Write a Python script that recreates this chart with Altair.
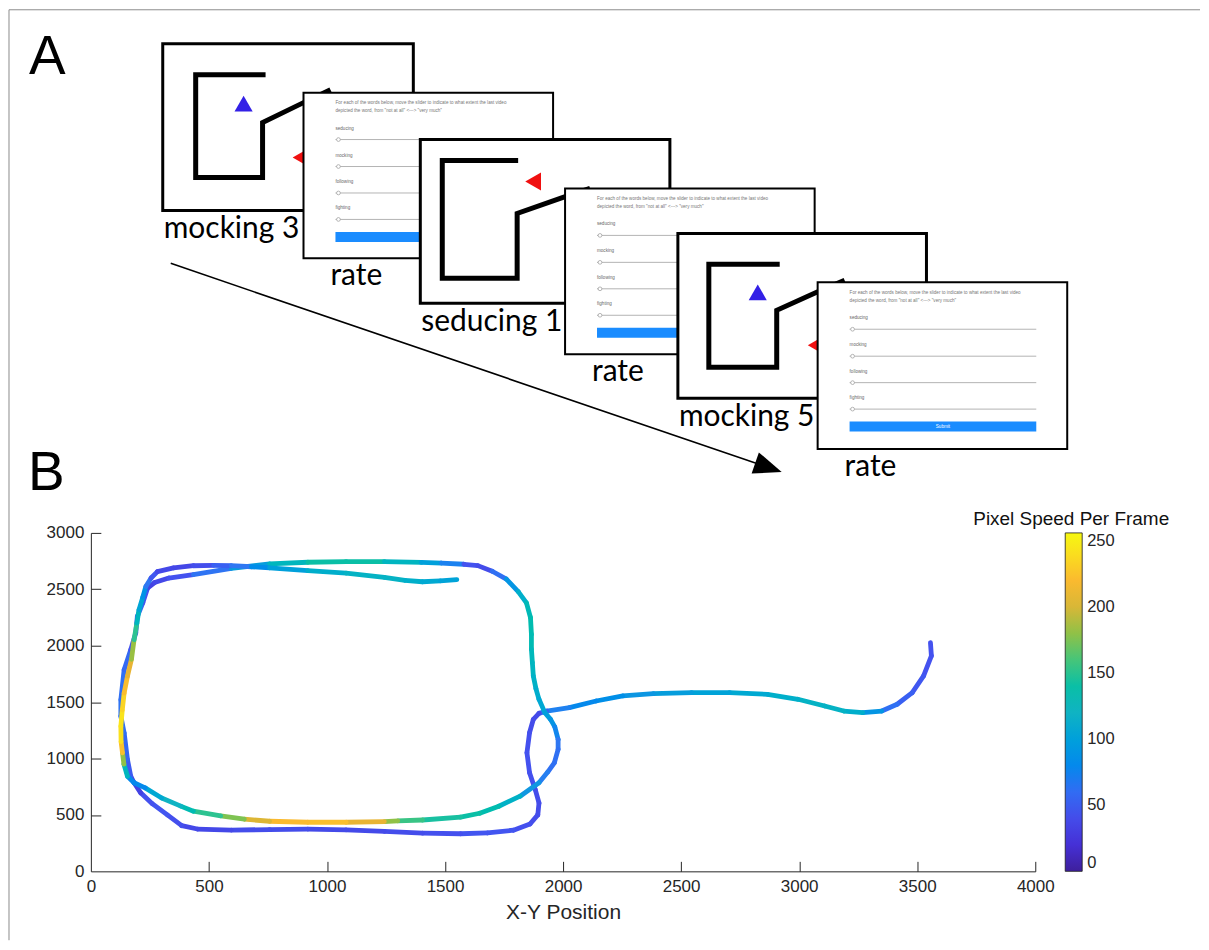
import math
import altair as alt
import pandas as pd

# ====================== Panel B data: trajectory ======================
traj_x = [3556, 3560, 3527, 3479, 3415, 3350, 3269, 3189, 3108, 2995, 2866, 2705, 2544, 2382, 2253, 2140, 2027, 1931, 1898, 1874,
          1858, 1847, 1858, 1882, 1898, 1893, 1860, 1790, 1680, 1566, 1405, 1243, 1081, 919, 757, 595, 451, 385, 324, 260, 211, 183,
          169, 155, 141, 127, 127, 141, 169, 190, 197, 220, 240,
          270, 330, 434, 595, 757, 919, 1081, 1243, 1400, 1485, 1580, 1639,
          1700, 1760, 1810, 1845, 1862, 1866, 1866, 1870, 1874, 1885, 1898, 1923, 1947, 1965, 1979, 1979, 1963, 1935, 1898, 1818,
          1728, 1647, 1566, 1405, 1300, 1243, 1081, 919, 757, 650, 550, 434, 381, 300, 230, 183,
          155, 140, 134, 128, 127, 133, 141, 155, 172, 183, 195, 204, 220, 233, 255, 282, 350, 434, 520, 595,
          680, 757, 919, 1081, 1243, 1330, 1404, 1480, 1550]
traj_y = [2028, 1910, 1732, 1584, 1481, 1421, 1407, 1421, 1466, 1525, 1569, 1584, 1584, 1575, 1555, 1510, 1451, 1421, 1400, 1347,
          1229, 1051, 874, 726, 607, 500, 420, 365, 340, 333, 338, 355, 368, 374, 370, 366, 375, 405, 500, 600, 696, 785,
          843, 991, 1227, 1375, 1522, 1788, 1965, 2112, 2260, 2380, 2510,
          2560, 2600, 2630, 2685, 2725, 2740, 2745, 2745, 2738, 2733, 2722, 2710,
          2660, 2590, 2480, 2380, 2250, 2100, 1969, 1850, 1732, 1620, 1525, 1407, 1347, 1280, 1170, 1081, 962, 880, 785, 666,
          577, 515, 480, 455, 447, 441, 435, 435, 444, 462, 492, 533, 578, 650, 740, 785,
          843, 950, 1050, 1150, 1286, 1430, 1581, 1730, 1880, 2053, 2200, 2319, 2430, 2525, 2600, 2657, 2690, 2709, 2712, 2709,
          2700, 2690, 2665, 2644, 2606, 2580, 2567, 2575, 2585]
traj_speed = [45, 45, 45, 50, 55, 70, 110, 118, 120, 118, 112, 105, 100, 95, 88, 82, 78, 70, 40, 38,
              42, 45, 45, 42, 40, 40, 42, 45, 48, 45, 42, 40, 38, 40, 42, 40, 35, 40, 45, 48, 40, 25,
              45, 55, 60, 65, 65, 60, 55, 35, 50, 60, 30,
              35, 40, 50, 80, 115, 135, 145, 135, 110, 90, 60, 30,
              50, 75, 105, 125, 135, 135, 130, 125, 120, 115, 110, 105, 95, 85, 70, 65, 60, 65, 80, 105,
              130, 140, 140, 145, 165, 195, 220, 225, 215, 190, 160, 140, 125, 115, 100, 60,
              100, 150, 210, 235, 248, 240, 228, 215, 200, 165, 135, 115, 95, 80, 55, 40, 35, 38, 45, 60,
              75, 90, 110, 118, 120, 118, 112, 105, 100]

x_tick_values = [0, 500, 1000, 1500, 2000, 2500, 3000, 3500, 4000]
y_tick_values = [0, 500, 1000, 1500, 2000, 2500, 3000]
speed_tick_values = [0, 50, 100, 150, 200, 250]
parula_stops = [0, 20, 45, 70, 95, 120, 145, 165, 185, 200, 215, 232, 256]
parula_colors = ["#3e1f9c", "#4530d6", "#4452ef", "#2f7bf2", "#1b9ade", "#0fb3c3", "#24c19c",
                 "#55c56b", "#a2bf3d", "#d8b737", "#f9b133", "#fad126", "#f6f811"]
x_title = "X-Y Position"
colorbar_title = "Pixel Speed Per Frame"

# ====================== Panel A data: schematic (page pixel layout) ======================
scene_names = ["mocking 3", "seducing 1", "mocking 5"]
scene_boxes = [[162, 43, 413, 210], [420, 139, 670, 303], [678, 233, 927, 398]]
rate_boxes = [[303, 92, 553, 258], [565, 188, 815, 354], [818, 282, 1068, 449]]
maze_x = [[265, 195, 195, 262, 262, 303, 330],
          [518, 442, 442, 517, 517, 563, 590],
          [780, 709, 709, 777, 777, 817, 845]]
maze_y = [[74, 74, 177, 177, 122, 102, 89],
          [160, 160, 278, 278, 213, 197, 188],
          [264, 264, 367, 367, 310, 292, 280]]
agent_shape = [["triangle-up", "triangle-left"], ["triangle-left"], ["triangle-up", "triangle-left"]]
agent_x = [[243, 300], [533], [758, 816]]
agent_y = [[103, 157], [181], [292, 345]]
agent_color = [["#3320e6", "#f01010"], ["#f01010"], ["#3320e6", "#f01010"]]
rate_word = "rate"
slider_words = ["seducing", "mocking", "following", "fighting"]
prompt_lines = ["For each of the words below, move the slider to indicate to what extent the last video",
                "depicted the word, from \"not at all\" <---> \"very much\""]
submit_text = "Submit"
panel_letters = ["A", "B"]
letter_x = [28, 27]
letter_y = [73, 490]
arrow_start = [170, 263]
arrow_tip = [782, 472]

# Plot area of panel B in page pixels: x 90..1036, y 533..872
PX0, PX1, PY0, PY1 = 90, 1036, 533, 872
W, H = PX1 - PX0, PY1 - PY0
XMAX, YMAX = 4000, 3000
TICK_PX = 10

sxA = alt.Scale(domain=[PX0, PX1], nice=False, zero=False)
syA = alt.Scale(domain=[PY0, PY1], nice=False, zero=False, reverse=True)


def ax(f):
    return alt.X(f + ":Q", scale=sxA, axis=None)


def ay(f):
    return alt.Y(f + ":Q", scale=syA, axis=None)


layers = []
# outer border (top + left)
layers.append(alt.Chart(pd.DataFrame({"x": [8], "x2": [1201], "y": [9]}))
              .mark_rule(color="#8c8c8c", strokeWidth=1)
              .encode(x=ax("x"), x2="x2", y=ay("y")))
layers.append(alt.Chart(pd.DataFrame({"x": [8], "y": [9], "y2": [941]}))
              .mark_rule(color="#8c8c8c", strokeWidth=1)
              .encode(x=ax("x"), y=ay("y"), y2="y2"))
# panel letters
layers.append(alt.Chart(pd.DataFrame({"x": letter_x, "y": letter_y, "t": panel_letters}))
              .mark_text(align="left", baseline="alphabetic", font="Liberation Sans", fontSize=55, color="black")
              .encode(x=ax("x"), y=ay("y"), text="t:N"))
# arrow
dx = arrow_tip[0] - arrow_start[0]
dy = arrow_tip[1] - arrow_start[1]
ln = math.hypot(dx, dy)
ux, uy = dx / ln, dy / ln
layers.append(alt.Chart(pd.DataFrame({"x": [arrow_start[0]], "y": [arrow_start[1]],
                                      "x2": [arrow_tip[0] - 24 * ux], "y2": [arrow_tip[1] - 24 * uy]}))
              .mark_rule(color="black", strokeWidth=1.6)
              .encode(x=ax("x"), y=ay("y"), x2="x2", y2="y2"))
layers.append(alt.Chart(pd.DataFrame({"x": [arrow_tip[0] - 14 * ux], "y": [arrow_tip[1] - 14 * uy]}))
              .mark_point(shape="M1,0L-1,-0.8L-1,0.8Z", size=784, angle=math.degrees(math.atan2(dy, dx)),
                          filled=True, opacity=1, color="black", strokeWidth=0)
              .encode(x=ax("x"), y=ay("y")))

for i in range(3):
    sb = scene_boxes[i]
    rb = rate_boxes[i]
    layers.append(alt.Chart(pd.DataFrame({"x": [sb[0]], "x2": [sb[2]], "y": [sb[1]], "y2": [sb[3]]}))
                  .mark_rect(fill="white", stroke="black", strokeWidth=3)
                  .encode(x=ax("x"), x2="x2", y=ay("y"), y2="y2"))
    layers.append(alt.Chart(pd.DataFrame({"x": maze_x[i], "y": maze_y[i], "o": list(range(len(maze_x[i])))}))
                  .mark_line(color="black", strokeWidth=5, strokeJoin="miter", strokeCap="butt")
                  .encode(x=ax("x"), y=ay("y"), order="o:Q"))
    for shp, axx, ayy, col in zip(agent_shape[i], agent_x[i], agent_y[i], agent_color[i]):
        layers.append(alt.Chart(pd.DataFrame({"x": [axx], "y": [ayy]}))
                      .mark_point(shape=shp, size=330, filled=True, opacity=1, color=col, strokeWidth=0)
                      .encode(x=ax("x"), y=ay("y")))
    layers.append(alt.Chart(pd.DataFrame({"x": [sb[0] + 1], "y": [sb[3] + 28], "t": [scene_names[i]]}))
                  .mark_text(align="left", baseline="alphabetic", font="Lato", fontSize=30, color="black")
                  .encode(x=ax("x"), y=ay("y"), text="t:N"))
    layers.append(alt.Chart(pd.DataFrame({"x": [rb[0]], "x2": [rb[2]], "y": [rb[1]], "y2": [rb[3]]}))
                  .mark_rect(fill="white", stroke="black", strokeWidth=2)
                  .encode(x=ax("x"), x2="x2", y=ay("y"), y2="y2"))
    layers.append(alt.Chart(pd.DataFrame({"x": [rb[0] + 32, rb[0] + 32], "y": [rb[1] + 10.5, rb[1] + 18.5],
                                          "t": prompt_lines}))
                  .mark_text(align="left", baseline="middle", font="Liberation Sans", fontSize=4.6, color="#777")
                  .encode(x=ax("x"), y=ay("y"), text="t:N"))
    layers.append(alt.Chart(pd.DataFrame({"x": [rb[0] + 32] * 4, "y": [rb[1] + v for v in (36, 63, 90, 116)],
                                          "t": slider_words}))
                  .mark_text(align="left", baseline="middle", font="Liberation Sans", fontSize=4.6, color="#666")
                  .encode(x=ax("x"), y=ay("y"), text="t:N"))
    layers.append(alt.Chart(pd.DataFrame({"x": [rb[0] + 32] * 4, "x2": [rb[0] + 219] * 4,
                                          "y": [rb[1] + v for v in (47, 74, 100.5, 127)]}))
                  .mark_rule(color="#b4b4b4", strokeWidth=1)
                  .encode(x=ax("x"), x2="x2", y=ay("y")))
    layers.append(alt.Chart(pd.DataFrame({"x": [rb[0] + 35] * 4, "y": [rb[1] + v for v in (47, 74, 100.5, 127)]}))
                  .mark_point(shape="circle", size=14, filled=True, fill="white", stroke="#999", strokeWidth=0.7, opacity=1)
                  .encode(x=ax("x"), y=ay("y")))
    layers.append(alt.Chart(pd.DataFrame({"x": [rb[0] + 32], "x2": [rb[0] + 219], "y": [rb[1] + 139.5], "y2": [rb[1] + 149.5]}))
                  .mark_rect(fill="#1a8cff")
                  .encode(x=ax("x"), x2="x2", y=ay("y"), y2="y2"))
    if i == 2:
        layers.append(alt.Chart(pd.DataFrame({"x": [rb[0] + 125.5], "y": [rb[1] + 144.5], "t": [submit_text]}))
                      .mark_text(align="center", baseline="middle", font="Liberation Sans", fontSize=4.6, color="white")
                      .encode(x=ax("x"), y=ay("y"), text="t:N"))
    layers.append(alt.Chart(pd.DataFrame({"x": [rb[0] + 27], "y": [rb[3] + 27], "t": [rate_word]}))
                  .mark_text(align="left", baseline="alphabetic", font="Lato", fontSize=30, color="black")
                  .encode(x=ax("x"), y=ay("y"), text="t:N"))

# colour bar title
layers.append(alt.Chart(pd.DataFrame({"x": [1072], "y": [525], "t": [colorbar_title]}))
              .mark_text(align="center", baseline="alphabetic", font="Liberation Sans", fontSize=19, color="#111")
              .encode(x=ax("x"), y=ay("y"), text="t:N"))

panel_a = alt.layer(*layers)

# ====================== Panel B ======================
seg = pd.DataFrame({
    "x": traj_x[:-1], "y": traj_y[:-1], "x2": traj_x[1:], "y2": traj_y[1:],
    "speed": [(a + b) / 2 for a, b in zip(traj_speed[:-1], traj_speed[1:])],
})
xsB = alt.Scale(domain=[0, XMAX], nice=False, zero=False)
ysB = alt.Scale(domain=[0, YMAX], nice=False, zero=False)
AX = "#262626"
x_axis = alt.Axis(orient="bottom", values=x_tick_values, title=x_title, ticks=False, grid=False,
                  labelFlush=False, labelFontSize=17, labelColor=AX, labelPadding=7,
                  domainColor=AX, domainWidth=1, titleFontSize=21, titleFontWeight="normal",
                  titleColor=AX, titlePadding=7, format="d")
y_axis = alt.Axis(orient="left", values=y_tick_values, title=None, ticks=False, grid=False,
                  labelFlush=False, labelFontSize=17, labelColor=AX, labelPadding=7,
                  domainColor=AX, domainWidth=1, format="d")
# second pair of axes carrying only the inward (MATLAB-style) ticks: shifted into the plot
x_tick_axis = alt.Axis(orient="bottom", values=x_tick_values[1:], title=None, labels=False, domain=False,
                       grid=False, ticks=True, tickSize=TICK_PX, tickColor=AX, tickWidth=1, offset=-TICK_PX)
y_tick_axis = alt.Axis(orient="left", values=y_tick_values[1:], title=None, labels=False, domain=False,
                       grid=False, ticks=True, tickSize=TICK_PX, tickColor=AX, tickWidth=1, offset=-TICK_PX)

path = alt.Chart(seg).mark_rule(strokeWidth=4.8, strokeCap="round").encode(
    x=alt.X("x:Q", scale=xsB, axis=x_axis),
    x2="x2",
    y=alt.Y("y:Q", scale=ysB, axis=y_axis),
    y2="y2",
    color=alt.Color("speed:Q", scale=alt.Scale(domain=parula_stops, range=parula_colors),
                    legend=alt.Legend(orient="none", legendX=976, legendY=0, direction="vertical", title=None,
                                      values=speed_tick_values, gradientLength=H, gradientThickness=17,
                                      labelFontSize=16.5, labelColor=AX, labelOffset=5, labelBaseline="middle",
                                      gradientStrokeColor="#1a1a1a", gradientStrokeWidth=0.8, padding=0)),
)

tick_holder = alt.Chart(seg).mark_point(opacity=0, size=1).encode(
    x=alt.X("x:Q", scale=xsB, axis=x_tick_axis),
    y=alt.Y("y:Q", scale=ysB, axis=y_tick_axis),
)

panel_b = alt.layer(path, tick_holder).resolve_axis(x="independent", y="independent")

chart = (alt.layer(panel_a, panel_b)
         .resolve_scale(x="independent", y="independent")
         .properties(width=W, height=H, padding=0, background="white")
         .configure(font="Liberation Sans")
         .configure_view(stroke=None))

chart.save("out.html", embed_options={"renderer": "svg", "actions": False})
